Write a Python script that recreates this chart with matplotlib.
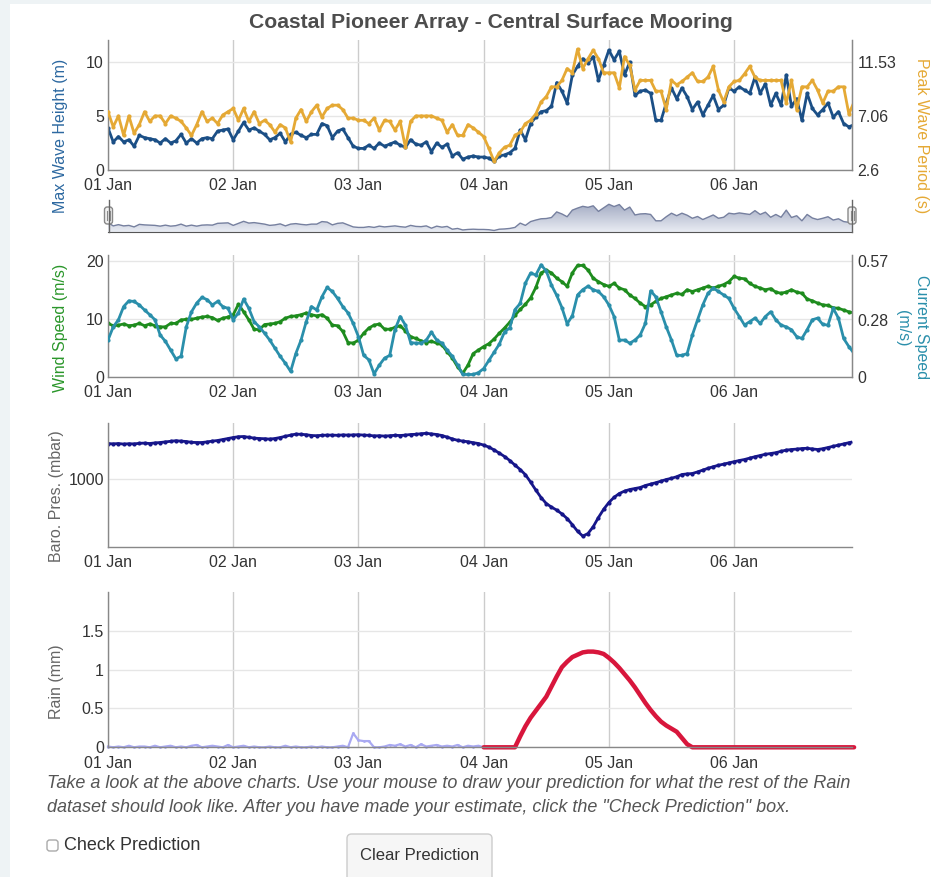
import numpy as np
import matplotlib
matplotlib.use("Agg")
import matplotlib.pyplot as plt
from matplotlib.patches import FancyBboxPatch, Rectangle
from matplotlib.colors import LinearSegmentedColormap
from matplotlib.lines import Line2D

# ---------------- data (hourly, starting 01 Jan 00:00) ----------------
day_hours = [0, 24, 48, 72, 96, 120]
day_labels = ["01 Jan", "02 Jan", "03 Jan", "04 Jan", "05 Jan", "06 Jan"]

wave_height = [3.9, 2.6, 3.1, 2.6, 2.8, 2.2, 3.2, 3.0, 2.9, 2.8,
               2.5, 2.9, 2.5, 2.7, 3.3, 2.5, 2.9, 2.5, 2.9, 3.0,
               2.9, 3.6, 3.7, 3.8, 2.8, 3.6, 4.4, 3.7, 3.9, 3.6,
               3.3, 2.8, 3.0, 3.4, 2.6, 3.3, 3.5, 3.2, 3.0, 3.3,
               3.3, 4.3, 4.1, 3.0, 3.6, 3.8, 3.0, 2.2, 2.0, 2.0,
               2.3, 2.0, 2.5, 2.2, 2.4, 2.6, 2.3, 2.1, 2.8, 2.4,
               2.3, 2.6, 1.7, 2.5, 2.1, 2.4, 1.3, 1.6, 1.0, 1.2,
               1.3, 1.2, 1.2, 1.1, 0.8, 1.3, 1.4, 1.6, 2.0, 3.7,
               2.8, 4.3, 4.9, 5.4, 5.5, 5.9, 8.1, 7.3, 6.2, 8.8,
               9.6, 10.3, 9.9, 10.5, 8.3, 9.7, 11.1, 10.2, 11.0, 8.8,
               10.0, 6.9, 7.3, 7.4, 7.1, 4.6, 4.6, 6.2, 7.6, 6.6,
               7.6, 6.8, 5.6, 6.3, 5.1, 6.0, 6.9, 5.6, 6.0, 7.6,
               7.3, 7.7, 7.4, 7.1, 8.6, 7.1, 8.0, 6.0, 7.1, 6.0,
               8.8, 5.9, 6.6, 4.6, 7.1, 5.7, 5.1, 5.6, 6.2, 4.9,
               5.4, 4.3, 4.0, 4.2]

peak_period = [7.42, 6.17, 7.07, 5.46, 7.07, 5.64, 6.35, 7.42, 6.62, 7.07,
               7.07, 6.44, 7.07, 6.89, 6.62, 6.08, 5.46, 6.35, 7.42, 6.62,
               6.89, 6.44, 7.15, 7.42, 7.69, 6.71, 7.69, 6.62, 7.42, 6.44,
               6.71, 6.35, 5.73, 6.35, 6.08, 4.92, 6.89, 7.60, 6.62, 7.42,
               7.96, 6.98, 7.69, 7.96, 7.96, 7.60, 6.89, 6.89, 6.71, 6.71,
               6.44, 6.89, 5.90, 6.71, 6.62, 5.90, 6.62, 4.48, 6.62, 7.07,
               7.07, 7.07, 7.07, 6.89, 6.71, 5.73, 6.35, 5.46, 5.46, 6.35,
               6.08, 5.73, 5.37, 4.39, 3.31, 4.03, 4.48, 4.65, 5.46, 5.73,
               6.44, 6.71, 7.24, 8.23, 8.67, 9.48, 9.48, 10.01, 10.99, 10.64,
               12.60, 10.99, 11.80, 12.51, 11.80, 10.64, 10.64, 10.64, 9.39, 11.98,
               11.26, 9.21, 10.01, 10.01, 10.01, 9.12, 9.12, 7.60, 10.01, 9.65,
               9.92, 10.28, 10.64, 9.92, 9.92, 10.28, 11.17, 9.21, 8.23, 9.48,
               9.92, 10.01, 10.55, 11.17, 10.28, 10.01, 10.01, 10.01, 10.01, 10.01,
               8.14, 10.01, 7.60, 9.48, 9.48, 10.01, 9.21, 8.14, 9.12, 9.12,
               9.48, 9.48, 7.24, 8.23]

wind_speed = [9.2, 8.8, 8.9, 9.1, 8.8, 8.9, 9.2, 8.8, 9.1, 8.8,
              8.6, 8.6, 9.2, 9.2, 9.8, 9.9, 9.9, 10.1, 10.3, 10.4,
              10.2, 9.7, 10.1, 10.3, 10.7, 12.5, 11.2, 9.8, 8.2, 8.1,
              9.0, 9.1, 9.2, 9.5, 10.1, 10.4, 10.5, 10.7, 11.0, 10.7,
              10.5, 10.7, 10.1, 8.9, 8.8, 7.8, 5.9, 5.8, 6.3, 7.5,
              8.4, 8.9, 9.1, 8.2, 8.2, 8.5, 8.8, 7.9, 6.9, 6.6,
              6.2, 5.9, 6.1, 5.8, 5.5, 4.3, 3.2, 1.7, 0.6, 2.0,
              4.0, 4.6, 5.2, 5.7, 6.5, 7.5, 8.4, 9.4, 10.6, 11.6,
              12.5, 13.6, 15.4, 17.9, 18.4, 17.9, 17.0, 16.4, 15.6, 17.9,
              19.2, 19.2, 18.4, 17.0, 16.4, 15.9, 15.6, 16.1, 15.3, 15.0,
              14.1, 13.5, 12.7, 12.1, 12.4, 13.0, 13.5, 13.8, 14.1, 14.4,
              14.2, 15.0, 14.7, 15.0, 15.3, 15.6, 15.3, 15.6, 15.9, 16.4,
              17.3, 17.0, 16.9, 16.1, 15.6, 15.3, 15.0, 15.2, 14.6, 14.4,
              14.6, 15.0, 14.6, 14.4, 13.4, 13.1, 12.7, 12.4, 12.3, 11.9,
              11.8, 11.5, 11.2, 11.0]

current_speed = [0.180, 0.245, 0.280, 0.345, 0.373, 0.370, 0.353, 0.328, 0.305, 0.280,
                 0.205, 0.174, 0.131, 0.088, 0.100, 0.245, 0.319, 0.362, 0.390, 0.379,
                 0.353, 0.370, 0.345, 0.336, 0.280, 0.314, 0.382, 0.336, 0.271, 0.245,
                 0.214, 0.180, 0.140, 0.100, 0.066, 0.026, 0.114, 0.180, 0.271, 0.345,
                 0.328, 0.393, 0.439, 0.419, 0.385, 0.345, 0.314, 0.262, 0.197, 0.105,
                 0.083, 0.014, 0.057, 0.091, 0.105, 0.231, 0.296, 0.254, 0.168, 0.165,
                 0.165, 0.180, 0.219, 0.180, 0.165, 0.131, 0.100, 0.057, 0.011, 0.011,
                 0.011, 0.020, 0.040, 0.080, 0.120, 0.160, 0.220, 0.240, 0.330, 0.360,
                 0.460, 0.510, 0.500, 0.550, 0.520, 0.450, 0.400, 0.340, 0.260, 0.300,
                 0.402, 0.428, 0.445, 0.428, 0.419, 0.393, 0.353, 0.296, 0.180, 0.180,
                 0.165, 0.180, 0.205, 0.262, 0.422, 0.393, 0.319, 0.245, 0.180, 0.105,
                 0.105, 0.114, 0.205, 0.280, 0.353, 0.410, 0.436, 0.419, 0.402, 0.385,
                 0.336, 0.296, 0.254, 0.271, 0.288, 0.262, 0.296, 0.319, 0.280, 0.254,
                 0.245, 0.231, 0.197, 0.188, 0.231, 0.280, 0.288, 0.257, 0.254, 0.336,
                 0.288, 0.188, 0.148, 0.114]

baro_pressure = [1017.8, 1017.6, 1017.8, 1017.5, 1017.7, 1017.6, 1017.9, 1018.0, 1017.8, 1018.1,
                 1018.3, 1018.6, 1018.9, 1019.2, 1019.0, 1018.8, 1018.4, 1018.3, 1018.3, 1018.6,
                 1019.0, 1019.3, 1019.8, 1020.3, 1020.8, 1021.2, 1021.3, 1020.9, 1020.5, 1020.3,
                 1020.2, 1020.0, 1020.3, 1020.8, 1021.4, 1022.0, 1022.5, 1022.4, 1022.2, 1021.8,
                 1021.7, 1021.9, 1022.0, 1022.0, 1021.9, 1022.1, 1022.0, 1022.1, 1022.2, 1022.0,
                 1021.9, 1021.6, 1021.7, 1021.5, 1021.7, 1021.9, 1021.8, 1022.0, 1022.3, 1022.4,
                 1022.7, 1022.9, 1022.6, 1022.3, 1021.8, 1021.0, 1020.1, 1019.4, 1019.0, 1018.7,
                 1018.2, 1017.8, 1017.0, 1016.0, 1014.6, 1013.0, 1011.3, 1009.3, 1007.0, 1004.8,
                 1002.2, 998.5, 994.5, 990.8, 987.8, 986.0, 984.5, 982.6, 980.3, 977.2,
                 973.9, 971.5, 972.8, 976.2, 980.8, 984.9, 988.3, 990.9, 992.8, 994.0,
                 994.8, 995.3, 995.8, 996.8, 997.5, 998.2, 999.0, 999.8, 1000.4, 1001.2,
                 1002.3, 1002.6, 1002.8, 1003.6, 1004.5, 1005.4, 1006.2, 1006.9, 1007.5, 1008.1,
                 1008.7, 1009.3, 1009.8, 1010.5, 1011.2, 1011.8, 1012.4, 1012.8, 1013.2, 1013.9,
                 1014.5, 1014.8, 1015.0, 1015.3, 1015.4, 1015.1, 1014.8, 1015.2, 1015.8, 1016.4,
                 1017.0, 1017.6, 1018.2, 1018.8]

rain_observed = [0.01, 0.0, 0.01, 0.0, 0.02, 0.0, 0.01, 0.01, 0.0, 0.02,
                 0.0, 0.01, 0.02, 0.0, 0.01, 0.0, 0.02, 0.03, 0.0, 0.01,
                 0.02, 0.01, 0.0, 0.03, 0.0, 0.01, 0.02, 0.0, 0.01, 0.0,
                 0.0, 0.01, 0.0, 0.0, 0.02, 0.0, 0.01, 0.0, 0.0, 0.01,
                 0.0, 0.01, 0.0, 0.0, 0.01, 0.02, 0.0, 0.18, 0.09, 0.08,
                 0.08, 0.0, 0.0, 0.01, 0.03, 0.02, 0.04, 0.01, 0.03, 0.0,
                 0.04, 0.01, 0.02, 0.03, 0.01, 0.02, 0.01, 0.03, 0.0, 0.02,
                 0.01, 0.02, 0.0]

rain_pred_start = 72
rain_predicted = [0, 0, 0, 0, 0, 0, 0,
                  0.14, 0.27, 0.38, 0.47, 0.56, 0.65, 0.78, 0.91, 1.03, 1.10, 1.16,
                  1.19, 1.22, 1.23, 1.23, 1.22, 1.20, 1.15, 1.09, 1.02, 0.94,
                  0.86, 0.77, 0.67, 0.57, 0.48, 0.40, 0.33, 0.28, 0.24, 0.20, 0.12, 0.04,
                  0, 0, 0, 0, 0, 0, 0, 0, 0, 0, 0, 0, 0, 0, 0, 0,
                  0, 0, 0, 0, 0, 0, 0, 0, 0, 0, 0, 0, 0, 0, 0, 0]

wave_right_ticks = [2.6, 7.06, 11.53]
current_ticks = [0, 0.28, 0.57]

# ---------------- figure ----------------
plt.rcParams['font.family'] = ['Liberation Sans', 'DejaVu Sans']
W, H = 931, 877
fig = plt.figure(figsize=(W / 100, H / 100), dpi=100)
fig.patch.set_facecolor('white')

fig.add_artist(Rectangle((0, 0), 10 / W, 1, transform=fig.transFigure,
                         facecolor='#eef3f5', edgecolor='none', zorder=0))
fig.add_artist(Rectangle((0, 1 - 4 / H), 1, 4 / H, transform=fig.transFigure,
                         facecolor='#eef3f5', edgecolor='none', zorder=0))

X0, X1 = 108, 852
XMAX = 142.6
TICK_C = '#333333'
AX_C = '#888888'
FS_TICK = 11.5


def px_axes(x0, y0, x1, y1):
    return fig.add_axes([x0 / W, 1 - y1 / H, (x1 - x0) / W, (y1 - y0) / H])


def base_style(ax, right=False):
    ax.set_xlim(0, XMAX)
    ax.set_xticks(day_hours)
    ax.set_xticklabels(day_labels)
    ax.tick_params(axis='both', length=0, labelsize=FS_TICK, colors=TICK_C)
    ax.tick_params(axis='x', pad=6)
    ax.tick_params(axis='y', pad=3)
    ax.spines['top'].set_visible(False)
    ax.spines['right'].set_visible(right)
    for s in ['left', 'bottom', 'right']:
        ax.spines[s].set_color(AX_C)
        ax.spines[s].set_linewidth(1)
    ax.grid(axis='x', color='#cccccc', lw=1)
    ax.grid(axis='y', color='#e6e6e6', lw=1)
    ax.set_axisbelow(True)


def twin(ax, ylim, ticks):
    a2 = ax.twinx()
    a2.set_ylim(*ylim)
    a2.set_yticks(ticks)
    a2.set_yticklabels(['%g' % v for v in ticks])
    a2.tick_params(length=0, labelsize=FS_TICK, colors=TICK_C, pad=4)
    for s in ['top', 'left', 'bottom']:
        a2.spines[s].set_visible(False)
    a2.spines['right'].set_color(AX_C)
    return a2


def hours(arr, start=0):
    return start + np.arange(len(arr))


# ---- panel 1: waves ----
ax1 = px_axes(X0, 40, X1, 170)
base_style(ax1, right=True)
ax1.set_ylim(0, 12.04)
ax1.set_yticks([0, 5, 10])
ax1.plot(hours(wave_height), wave_height, '-o', color='#1b4f86', lw=2, ms=3, mew=0)
ax1b = twin(ax1, (2.6, 2.6 + 0.893 * 12.04), wave_right_ticks)
ax1b.plot(hours(peak_period), peak_period, '-o', color='#e5a935', lw=2, ms=3, mew=0)
ax1b.set_xlim(0, XMAX)

# ---- navigator ----
axn = px_axes(X0, 203, X1, 232)
tw = hours(wave_height)
poly = axn.fill_between(tw, wave_height, 0.2, facecolor='none', edgecolor='none')
cmap = LinearSegmentedColormap.from_list('nav', ['#e9ecf3', '#a3abc3'])
im = axn.imshow(np.linspace(0, 1, 100).reshape(-1, 1), extent=[0, XMAX, 0.2, 11.6],
                origin='lower', aspect='auto', cmap=cmap)
im.set_clip_path(poly.get_paths()[0], transform=axn.transData)
axn.plot(tw, wave_height, color='#76809f', lw=1)
axn.set_xlim(0, XMAX)
axn.set_ylim(0.2, 11.6)
axn.set_xticks([])
axn.set_yticks([])
for s in ['top', 'left', 'right']:
    axn.spines[s].set_visible(False)
axn.spines['bottom'].set_color('#555555')


def handle(xc):
    fig.add_artist(Line2D([xc / W, xc / W], [1 - 200 / H, 1 - 232 / H],
                          transform=fig.transFigure, color='#666666', lw=1))
    fig.add_artist(FancyBboxPatch(((xc - 4) / W, 1 - 224 / H), 8 / W, 17 / H,
                                  boxstyle='round,pad=0,rounding_size=0.003',
                                  transform=fig.transFigure, fc='#f2f2f2', ec='#888888', lw=1))
    for dx in (-1.5, 1.5):
        fig.add_artist(Line2D([(xc + dx) / W] * 2, [1 - 211 / H, 1 - 220 / H],
                              transform=fig.transFigure, color='#888888', lw=0.8))


handle(108.5)
handle(852)

# ---- panel 2: wind / current ----
ax2 = px_axes(X0, 255, X1, 376.7)
base_style(ax2, right=True)
ax2.set_ylim(0, 21.0)
ax2.set_yticks([0, 10, 20])
ax2.plot(hours(wind_speed), wind_speed, '-o', color='#1e8c1e', lw=2, ms=3, mew=0)
ax2b = twin(ax2, (0, 21.0 * 0.0285), current_ticks)
ax2b.plot(hours(current_speed), current_speed, '-o', color='#2a8fab', lw=2, ms=3, mew=0)
ax2b.set_xlim(0, XMAX)

# ---- panel 3: barometric pressure ----
ax3 = px_axes(X0, 423.3, X1, 546.7)
base_style(ax3)
ax3.set_ylim(966.2, 1027.9)
ax3.set_yticks([1000])
ax3.plot(hours(baro_pressure), baro_pressure, '-o', color='#16168a', lw=2, ms=3, mew=0)

# ---- panel 4: rain ----
ax4 = px_axes(X0, 591.7, X1, 747.3)
base_style(ax4)
ax4.set_ylim(0, 2.0)
ax4.set_yticks([0, 0.5, 1, 1.5])
ax4.set_yticklabels(['0', '0.5', '1', '1.5'])
ax4.plot(hours(rain_observed), rain_observed, '-o', color='#a9a9f2', lw=1.6, ms=2, mew=0,
         clip_on=False)
ax4.plot(hours(rain_predicted, rain_pred_start), rain_predicted, '-', color='#d8163c',
         lw=3.2, solid_capstyle='round', solid_joinstyle='round', clip_on=False)

# ---- texts ----
fig.text(491 / W, 1 - 22 / H, "Coastal Pioneer Array - Central Surface Mooring",
         ha='center', va='center', fontsize=15.2, fontweight='bold', color='#4d4d4d')

fig.text(60 / W, 1 - 136 / H, "Max Wave Height (m)", rotation=90, ha='center', va='center',
         fontsize=11.5, color='#2c68a0')
fig.text(922 / W, 1 - 136 / H, "Peak Wave Period (s)", rotation=270, ha='center', va='center',
         fontsize=11.5, color='#e5a935')
fig.text(60 / W, 1 - 328 / H, "Wind Speed (m/s)", rotation=90, ha='center', va='center',
         fontsize=11.5, color='#2a962a')
fig.text(922 / W, 1 - 327 / H, "Current Speed", rotation=270, ha='center', va='center',
         fontsize=11.5, color='#2a8fab')
fig.text(903 / W, 1 - 328 / H, "(m/s)", rotation=270, ha='center', va='center',
         fontsize=11.5, color='#2a8fab')
fig.text(57 / W, 1 - 496 / H, "Baro. Pres. (mbar)", rotation=90, ha='center', va='center',
         fontsize=11.5, color='#666666')
fig.text(57 / W, 1 - 682 / H, "Rain (mm)", rotation=90, ha='center', va='center',
         fontsize=11.5, color='#666666')

fig.text(47 / W, 1 - 783 / H,
         "Take a look at the above charts. Use your mouse to draw your prediction for what the rest of the Rain",
         ha='left', va='center', fontsize=13, style='italic', color='#555555')
fig.text(47 / W, 1 - 808 / H,
         "dataset should look like. After you have made your estimate, click the \"Check Prediction\" box.",
         ha='left', va='center', fontsize=13, style='italic', color='#555555')

fig.add_artist(FancyBboxPatch((47 / W, 1 - 851 / H), 11 / W, 11 / H,
                              boxstyle='round,pad=0,rounding_size=0.003',
                              transform=fig.transFigure, fc='white', ec='#aaaaaa', lw=1))
fig.text(64 / W, 1 - 845 / H, "Check Prediction", ha='left', va='center',
         fontsize=13, color='#333333')
fig.add_artist(FancyBboxPatch((347 / W, 1 - 884 / H), 145 / W, 50 / H,
                              boxstyle='round,pad=0,rounding_size=0.005',
                              transform=fig.transFigure, fc='#f6f6f6', ec='#cccccc', lw=1))
fig.text(420 / W, 1 - 855 / H, "Clear Prediction", ha='center', va='center',
         fontsize=12, color='#333333')

fig.savefig('out.png', dpi=100)
